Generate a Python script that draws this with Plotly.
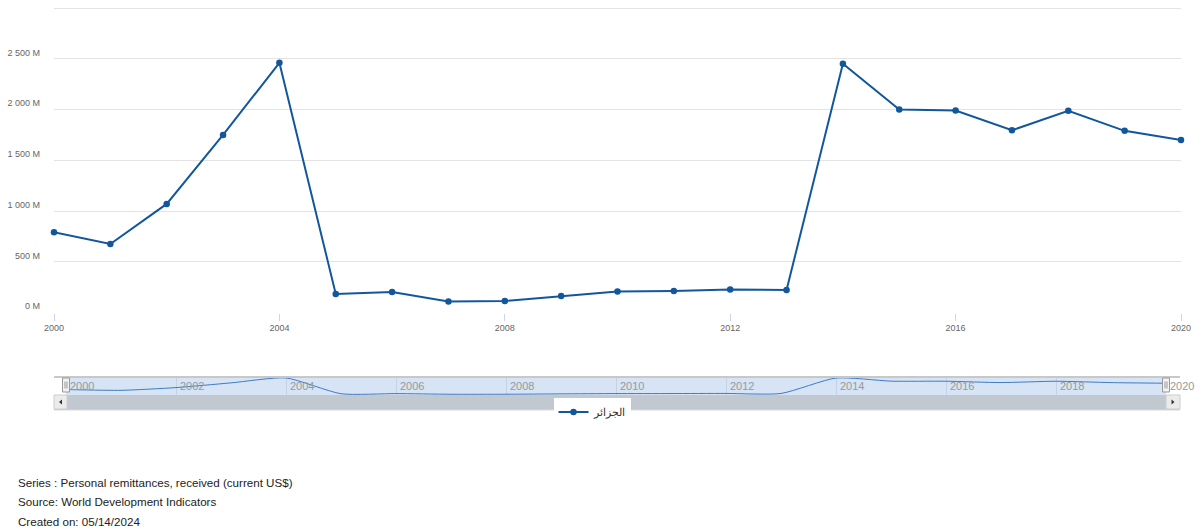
import plotly.graph_objects as go

# ---------------- data ----------------
years = [2000, 2001, 2002, 2003, 2004, 2005, 2006, 2007, 2008, 2009, 2010,
         2011, 2012, 2013, 2014, 2015, 2016, 2017, 2018, 2019, 2020]
remittances_m = [790, 675, 1070, 1750, 2460, 182, 202, 108, 113, 163, 207,
                 212, 227, 222, 2450, 2000, 1990, 1795, 1987, 1790, 1700]
series_name = "الجزائر"

y_tick_vals = [500, 1000, 1500, 2000, 2500, 3000]
y_tick_text = ["500 M", "1 000 M", "1 500 M", "2 000 M", "2 500 M", ""]
y_zero_vals = [0]
y_zero_text = ["0 M"]
x_tick_vals = [2000, 2004, 2008, 2012, 2016, 2020]
nav_tick_vals = [2000, 2002, 2004, 2006, 2008, 2010, 2012, 2014, 2016, 2018, 2020]

footer_lines = [
    "Series : Personal remittances, received (current US$)",
    "Source: World Development Indicators",
    "Created on: 05/14/2024",
]

# ---------------- geometry helpers ----------------
W, H = 1201, 529
ML, MR, MT, MB = 54, 20, 6, 119
PW, PH = W - ML - MR, H - MT - MB


def px(x):
    return (x - ML) / PW


def py(y):
    return (H - MB - y) / PH


FONT = "Liberation Sans, Arial, sans-serif"
LINE_COLOR = "#12579c"
# y range chosen so that 3000 sits at 8px from the top, 0 at 312.5px
Y_TOP = 3000 * (312.5 - MT) / (312.5 - 8)

fig = go.Figure()

fig.add_trace(go.Scatter(
    x=years, y=remittances_m, name=series_name, mode="lines+markers",
    line=dict(color=LINE_COLOR, width=2),
    marker=dict(color=LINE_COLOR, size=6.5),
    cliponaxis=False, xaxis="x", yaxis="y",
))

# navigator series
fig.add_trace(go.Scatter(
    x=years, y=remittances_m, mode="lines", showlegend=False,
    line=dict(color="#3f7cc2", width=1, shape="spline", smoothing=0.6),
    xaxis="x2", yaxis="y2", hoverinfo="skip",
))

# invisible trace to host the 0 M label axis
fig.add_trace(go.Scatter(
    x=years, y=remittances_m, mode="lines", showlegend=False,
    line=dict(width=0), opacity=0, xaxis="x", yaxis="y3", hoverinfo="skip",
))

shapes = []
# navigator band
shapes.append(dict(type="rect", xref="paper", yref="paper",
                   x0=px(66), x1=px(1166), y0=py(395), y1=py(377),
                   fillcolor="#d6e4f5", line=dict(width=0), layer="below"))
# navigator top outline
shapes.append(dict(type="line", xref="paper", yref="paper",
                   x0=px(54), x1=px(1180), y0=py(377), y1=py(377),
                   line=dict(color="#c8c8c8", width=2), layer="above"))
# scrollbar track
shapes.append(dict(type="rect", xref="paper", yref="paper",
                   x0=px(54), x1=px(1180), y0=py(410), y1=py(395),
                   fillcolor="#c2c8d0", line=dict(width=0), layer="below"))
shapes.append(dict(type="line", xref="paper", yref="paper",
                   x0=px(54), x1=px(1180), y0=py(410), y1=py(410),
                   line=dict(color="#d9d9d9", width=1), layer="above"))
# scrollbar buttons
for bx0, bx1 in [(54, 67), (1166, 1180)]:
    shapes.append(dict(type="rect", xref="paper", yref="paper",
                       x0=px(bx0), x1=px(bx1), y0=py(409), y1=py(395),
                       fillcolor="#ebebeb", line=dict(color="#cccccc", width=1),
                       layer="above"))
# arrows
shapes.append(dict(type="path", xref="paper", yref="paper",
                   path=f"M {px(62)},{py(399.5)} L {px(59)},{py(402)} L {px(62)},{py(404.5)} Z",
                   fillcolor="#333333", line=dict(width=0), layer="above"))
shapes.append(dict(type="path", xref="paper", yref="paper",
                   path=f"M {px(1171.5)},{py(399.5)} L {px(1174.5)},{py(402)} L {px(1171.5)},{py(404.5)} Z",
                   fillcolor="#333333", line=dict(width=0), layer="above"))
# navigator handles
for hx in [66, 1166]:
    shapes.append(dict(type="rect", xref="paper", yref="paper",
                       x0=px(hx - 3.5), x1=px(hx + 3.5), y0=py(392), y1=py(378),
                       fillcolor="#f2f2f2", line=dict(color="#999999", width=1),
                       layer="above"))
    for gx in (hx - 1, hx + 1):
        shapes.append(dict(type="line", xref="paper", yref="paper",
                           x0=px(gx), x1=px(gx), y0=py(388.5), y1=py(381.5),
                           line=dict(color="#999999", width=1), layer="above"))

annotations = []
for i, t in enumerate(footer_lines):
    annotations.append(dict(text=t, xref="paper", yref="paper",
                            x=px(16), y=py(482 + 19.5 * i), xanchor="left",
                            yanchor="middle", showarrow=False,
                            font=dict(family=FONT, size=11.6, color="#222222")))

fig.update_layout(
    width=W, height=H,
    margin=dict(l=ML, r=MR, t=MT, b=MB, pad=0, autoexpand=False),
    paper_bgcolor="white", plot_bgcolor="rgba(0,0,0,0)",
    font=dict(family=FONT, color="#666666"),
    shapes=shapes, annotations=annotations,
    showlegend=True,
    legend=dict(x=px(592), y=py(397.5), xanchor="center", yanchor="top",
                orientation="h", bgcolor="white", borderwidth=0,
                font=dict(family=FONT, size=11, color="#333333"),
                itemwidth=30, tracegroupgap=0),
    xaxis=dict(domain=[0, 1], range=[2000, 2020], tickvals=x_tick_vals,
               ticks="outside", ticklen=7, tickcolor="#ccd6eb", tickwidth=1,
               showgrid=False, zeroline=False, showline=False, automargin=False,
               tickfont=dict(size=9, color="#666666"), anchor="y"),
    yaxis=dict(domain=[py(312.5), 1], range=[0, Y_TOP], tickvals=y_tick_vals,
               ticktext=y_tick_text, showgrid=True, gridcolor="#e3e3e3",
               gridwidth=1, zeroline=False, showline=False, ticks="",
               ticklabelposition="outside top", ticklabelstandoff=13,
               automargin=False,
               tickfont=dict(size=9, color="#666666"), anchor="x"),
    yaxis3=dict(overlaying="y", range=[0, Y_TOP], tickvals=y_zero_vals,
                ticktext=y_zero_text, showgrid=False, zeroline=False,
                showline=False, ticks="", side="left", anchor="x",
                ticklabelposition="outside top", ticklabelstandoff=13,
                automargin=False,
                tickfont=dict(size=9, color="#666666")),
    xaxis2=dict(domain=[px(66), px(1166)], range=[2000, 2020],
                tickvals=nav_tick_vals, showgrid=True, gridcolor="#c3d2e6",
                gridwidth=1, zeroline=False, showline=False, ticks="",
                ticklabelposition="inside right", ticklabeloverflow="allow",
                ticklabelstandoff=-3, ticklabelshift=4, automargin=False,
                tickfont=dict(size=11, color="#999999"), anchor="y2"),
    yaxis2=dict(domain=[py(395), py(377)], range=[0, 2600], visible=False,
                anchor="x2", fixedrange=True),
)

fig.write_html("out.html")
